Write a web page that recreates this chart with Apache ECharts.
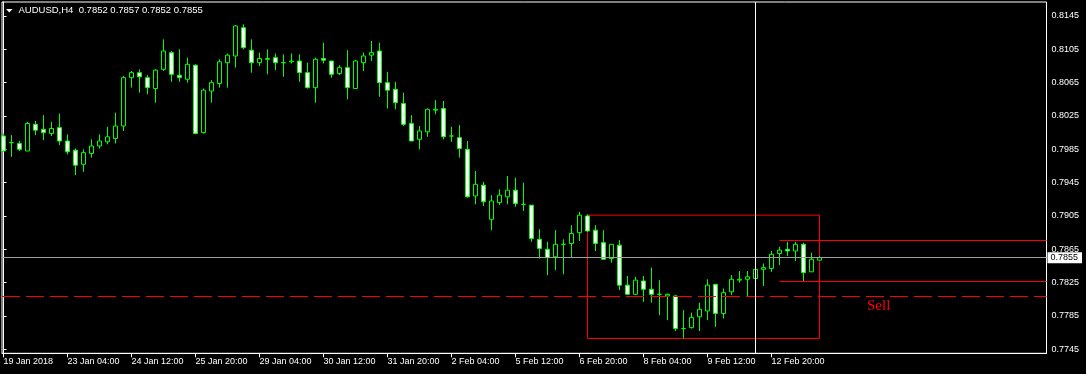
<!DOCTYPE html>
<html>
<head>
<meta charset="utf-8">
<script src="https://cdn.jsdelivr.net/npm/echarts@6/dist/echarts.min.js"></script>
<style>
html,body{margin:0;padding:0;background:#000;}
#chart{width:1086px;height:374px;}
</style>
</head>
<body>
<div id="chart"></div>
<script>
// ---- data (H4 candles, index 0 = 19 Jan 2018) ----
const opens = [0.8001,0.7993,0.7992,0.7983,0.8015,0.8009,0.8004,0.8011,0.7995,0.7984,
0.7967,0.7980,0.7989,0.7994,0.7998,0.8013,0.8071,0.8077,0.8071,0.8058,
0.8081,0.8101,0.8074,0.8069,0.8086,0.8005,0.8055,0.8064,0.8089,0.8097,
0.8131,0.8104,0.8089,0.8093,0.8095,0.8089,0.8090,0.8091,0.8077,0.8059,
0.8094,0.8091,0.8076,0.8083,0.8058,0.8089,0.8098,0.8103,0.8065,0.8057,
0.8040,0.8016,0.7997,0.8006,0.8032,0.8034,0.8001,0.7999,0.7985,0.7929,
0.7942,0.7901,0.7921,0.7928,0.7936,0.7919,0.7918,0.7877,0.7865,0.7856,
0.7871,0.7872,0.7885,0.7905,0.7888,0.7873,0.7854,0.7870,0.7822,0.7811,
0.7827,0.7817,0.7811,0.7809,0.7809,0.7770,0.7771,0.7784,0.7791,0.7823,
0.7788,0.7814,0.7828,0.7829,0.7830,0.7841,0.7842,0.7860,0.7865,0.7863,
0.7871,0.7838,0.7852];
const closes = [0.7983,0.7993,0.7985,0.8016,0.8008,0.8005,0.8010,0.7995,0.7982,0.7966,
0.7981,0.7989,0.7995,0.8000,0.8013,0.8071,0.8077,0.8072,0.8059,0.8080,
0.8103,0.8075,0.8071,0.8087,0.8004,0.8056,0.8065,0.8090,0.8098,0.8133,
0.8107,0.8089,0.8094,0.8094,0.8089,0.8089,0.8091,0.8077,0.8059,0.8093,
0.8092,0.8075,0.8083,0.8059,0.8091,0.8097,0.8101,0.8065,0.8056,0.8041,
0.8015,0.7995,0.8007,0.8033,0.8033,0.8000,0.8001,0.7986,0.7928,0.7943,
0.7922,0.7923,0.7930,0.7936,0.7920,0.7919,0.7878,0.7866,0.7855,0.7871,
0.7871,0.7884,0.7906,0.7887,0.7872,0.7853,0.7871,0.7822,0.7811,0.7828,
0.7817,0.7811,0.7811,0.7811,0.7770,0.7770,0.7783,0.7793,0.7822,0.7788,
0.7813,0.7829,0.7829,0.7832,0.7841,0.7843,0.7859,0.7864,0.7863,0.7871,
0.7837,0.7853,0.7855];
const lows = [0.7982,0.7976,0.7983,0.7983,0.8002,0.7996,0.8001,0.7990,0.7979,0.7954,
0.7958,0.7975,0.7986,0.7991,0.7992,0.8007,0.8059,0.8053,0.8051,0.8041,
0.8079,0.8066,0.8066,0.8065,0.8003,0.8004,0.8041,0.8059,0.8059,0.8083,
0.8105,0.8077,0.8085,0.8075,0.8080,0.8072,0.8088,0.8066,0.8058,0.8041,
0.8088,0.8071,0.8074,0.8045,0.8058,0.8079,0.8091,0.8048,0.8034,0.8033,
0.8013,0.7995,0.7985,0.8000,0.8027,0.7997,0.7994,0.7975,0.7927,0.7919,
0.7917,0.7888,0.7918,0.7919,0.7916,0.7911,0.7874,0.7854,0.7834,0.7840,
0.7835,0.7855,0.7875,0.7886,0.7863,0.7853,0.7849,0.7816,0.7811,0.7810,
0.7802,0.7801,0.7786,0.7780,0.7767,0.7758,0.7770,0.7767,0.7780,0.7772,
0.7782,0.7810,0.7825,0.7808,0.7824,0.7821,0.7838,0.7846,0.7857,0.7851,
0.7827,0.7838,0.7852];
const highs = [0.8004,0.8002,0.7995,0.8018,0.8019,0.8026,0.8018,0.8028,0.8003,0.7986,
0.7985,0.7997,0.8003,0.8012,0.8029,0.8073,0.8079,0.8081,0.8074,0.8081,
0.8117,0.8103,0.8105,0.8095,0.8087,0.8058,0.8068,0.8093,0.8100,0.8134,
0.8135,0.8117,0.8101,0.8105,0.8100,0.8099,0.8100,0.8099,0.8089,0.8095,
0.8113,0.8091,0.8086,0.8104,0.8092,0.8101,0.8115,0.8113,0.8078,0.8066,
0.8053,0.8026,0.8013,0.8034,0.8044,0.8043,0.8012,0.8014,0.7995,0.7959,
0.7946,0.7930,0.7937,0.7953,0.7951,0.7945,0.7918,0.7889,0.7874,0.7888,
0.7877,0.7894,0.7910,0.7907,0.7894,0.7888,0.7871,0.7876,0.7833,0.7832,
0.7833,0.7843,0.7828,0.7812,0.7810,0.7792,0.7789,0.7801,0.7829,0.7823,
0.7818,0.7834,0.7839,0.7839,0.7846,0.7848,0.7863,0.7868,0.7874,0.7874,
0.7873,0.7861,0.7857];

// time-axis labels every 8 bars
const timeLabels = ['19 Jan 2018','23 Jan 04:00','24 Jan 12:00','25 Jan 20:00','29 Jan 04:00',
  '30 Jan 12:00','31 Jan 20:00','2 Feb 04:00','5 Feb 12:00','6 Feb 20:00','8 Feb 04:00',
  '9 Feb 12:00','12 Feb 20:00'];
const timeLabelIndex = [0,8,16,24,32,40,48,56,64,72,80,88,96];
const priceTicks = [0.7745,0.7785,0.7825,0.7865,0.7905,0.7945,0.7985,0.8025,0.8065,0.8105,0.8145];

// chart objects
const titleText = 'AUDUSD,H4  0.7852 0.7857 0.7852 0.7855';
const lastPrice = 0.7855;
const sellLevel = 0.7809;
const sellText = 'Sell';
const sellTextPos = [109.4, 0.7797];
const boxStart = 73, boxEnd = 102, boxTop = 0.7906, boxBottom = 0.7758;
const rangeStart = 97, rangeHigh = 0.7876, rangeLow = 0.7827;
const separatorIndex = 94;

// axis extents (view window)
const xMin = -0.1875, xMax = 130.375;
const yMin = 0.77402, yMax = 0.81618;

const FONT = "'Liberation Sans', Arial, sans-serif";
const chart = echarts.init(document.getElementById('chart'), null, {renderer: 'canvas'});

const candles = opens.map((o, i) => [i, o, closes[i], lows[i], highs[i]]);

chart.setOption({
  animation: false,
  backgroundColor: '#000000',
  title: {
    text: titleText, left: 18.5, top: 5.5, padding: 0,
    textStyle: {color: '#ffffff', fontSize: 9.5, fontWeight: 'normal', fontFamily: FONT}
  },
  graphic: [{
    type: 'polygon', silent: true,
    shape: {points: [[6, 9], [12.5, 9], [9.25, 12.5]]},
    style: {fill: '#ffffff'}
  }],
  grid: {
    left: 2, top: 2, right: 39.5, bottom: 20.7,
    show: true, borderColor: '#ffffff', borderWidth: 1, backgroundColor: '#000000'
  },
  xAxis: {
    type: 'value', min: xMin, max: xMax,
    axisLine: {show: true, lineStyle: {color: '#ffffff'}},
    axisTick: {show: true, length: 4, customValues: timeLabelIndex, lineStyle: {color: '#ffffff'}},
    axisLabel: {
      customValues: timeLabelIndex, color: '#ffffff', fontSize: 9, fontFamily: FONT,
      align: 'left', margin: 4,
      formatter: v => timeLabels[timeLabelIndex.indexOf(Math.round(v))] || ''
    },
    splitLine: {show: false}
  },
  yAxis: {
    type: 'value', position: 'right', min: yMin, max: yMax, scale: true,
    axisLine: {show: true, lineStyle: {color: '#ffffff'}},
    axisTick: {show: true, length: 3, customValues: priceTicks, lineStyle: {color: '#ffffff'}},
    axisLabel: {
      customValues: priceTicks, color: '#ffffff', fontSize: 9, fontFamily: FONT, margin: 5,
      formatter: v => v.toFixed(4)
    },
    splitLine: {show: false}
  },
  series: [{
    type: 'candlestick',
    data: candles,
    encode: {x: 0, y: [1, 2, 3, 4]},
    barWidth: 4,
    itemStyle: {
      color: '#000000', color0: '#ffffff',
      borderColor: '#00ff00', borderColor0: '#00ff00', borderWidth: 1
    },
    markArea: {
      silent: true,
      itemStyle: {color: 'rgba(0,0,0,0)', borderColor: '#ff0000', borderWidth: 1},
      data: [[{coord: [boxStart, boxTop]}, {coord: [boxEnd, boxBottom]}]]
    },
    markLine: {
      silent: true, symbol: ['none', 'none'], animation: false,
      data: [
        [{coord: [xMin, lastPrice], lineStyle: {color: '#a0a0a0', width: 1, type: 'solid'},
          label: {show: true, position: 'end', distance: 1, formatter: lastPrice.toFixed(4),
                  color: '#000000', backgroundColor: '#ffffff', fontSize: 9, fontFamily: FONT,
                  padding: [1, 4, 0, 3], lineHeight: 10}},
         {coord: [xMax, lastPrice]}],
        [{coord: [xMin, sellLevel], lineStyle: {color: '#ff0000', width: 1, type: [18, 6]}, label: {show: false}},
         {coord: [xMax, sellLevel]}],
        [{coord: [separatorIndex, yMax], lineStyle: {color: '#ffffff', width: 1, type: 'solid'}, label: {show: false}},
         {coord: [separatorIndex, yMin]}],
        [{coord: [rangeStart, rangeHigh], lineStyle: {color: '#ff0000', width: 1, type: 'solid'}, label: {show: false}},
         {coord: [xMax, rangeHigh]}],
        [{coord: [rangeStart, rangeLow], lineStyle: {color: '#ff0000', width: 1, type: 'solid'}, label: {show: false}},
         {coord: [xMax, rangeLow]}]
      ]
    },
    markPoint: {
      silent: true,
      data: [{
        coord: sellTextPos, symbol: 'circle', symbolSize: 1,
        itemStyle: {color: 'rgba(0,0,0,0)'},
        label: {show: true, position: 'inside', formatter: sellText, color: '#ff0000',
                fontSize: 15, fontFamily: "'Liberation Serif', 'Times New Roman', serif"}
      }]
    }
  }]
});
</script>
</body>
</html>
